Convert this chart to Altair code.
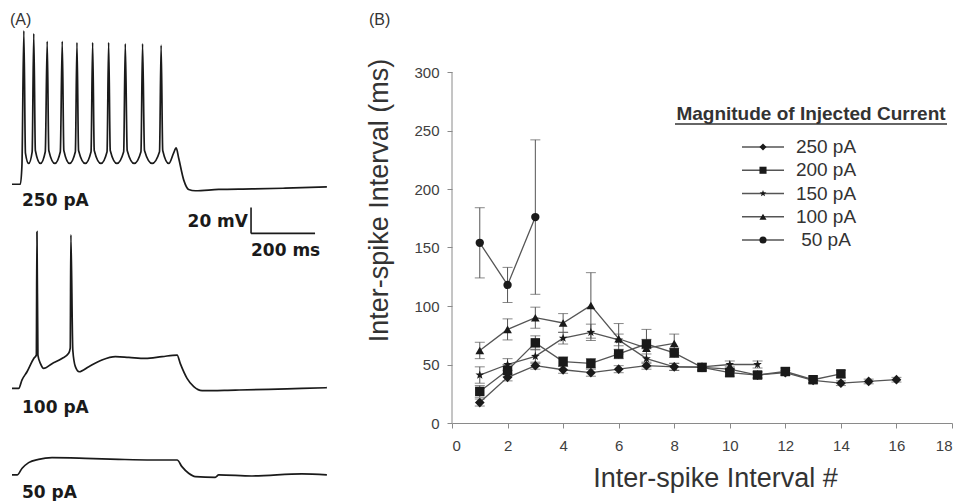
import altair as alt
import pandas as pd

# ---------------- Panel B data ----------------
SERIES = ["250 pA", "200 pA", "150 pA", "100 pA", "50 pA"]
ISI_250 = [17.5, 39, 49, 45.5, 43, 46, 49, 48, 47.5, 46, 41, 43, 36.5, 34, 35.5, 37]
ISI_200 = [27, 45, 68.5, 52.5, 51, 59, 67.5, 60, 47.5, 43, 41, 44, 37, 42]
ISI_150 = [41, 50, 57, 72.5, 77.5, 71, 55, 48, 48, 50, 50]
ISI_100 = [62, 80, 90, 85.5, 100.5, 72, 64, 68]
ISI_50 = [154, 118, 176]
ERR_250 = [3, 3, 3, 3, 3, 3, 3, 3, 2, 2, 2, 2, 2, 2, 2, 2]
ERR_200 = [5, 5, 6, 4, 4, 4, 4, 4, 3, 3, 3, 3, 3, 3]
ERR_150 = [7, 5, 6, 5, 7, 5, 4, 3, 3, 3, 3]
ERR_100 = [7, 9, 9, 8, 28, 13, 16, 8]
ERR_50 = [30, 15, 66]
X_TICKS = list(range(0, 19, 2))
Y_TICKS = list(range(0, 301, 50))

# ---------------- Panel A traces (time ms, mV relative to rest) ----------------
T250 = [0, 26, 31, 37, 42, 52, 63, 68, 73, 89, 104, 110, 115, 134, 151, 157, 162, 180, 198, 203,
        208, 229, 247, 252, 257, 278, 297, 302, 307, 328, 349, 354, 360, 382, 403, 408, 414, 438,
        461, 466, 471, 490, 505, 513, 521, 537, 552, 573, 646, 750, 854, 984]
V250 = [0, 0, 14, 118, 24, 16, 25, 116, 26, 16, 25, 110, 26, 16, 25, 110, 26, 16, 25, 109,
        26, 16, 25, 109, 26, 16, 25, 109, 26, 16, 25, 108, 26, 16, 25, 108, 26, 16,
        25, 107, 26, 16, 24, 28, 20, 3, -4, -5, -4, -3.6, -3, -2]
T100 = [0, 21, 31, 47, 68, 76, 78, 81, 89, 99, 125, 156, 177, 182, 184, 190, 198, 210, 240, 281,
        323, 365, 417, 469, 516, 526, 547, 568, 594, 698, 802, 906, 984]
V100 = [0, 0, 6.4, 12.8, 23, 25.6, 120.5, 25.6, 19, 15.4, 19, 23, 27, 31, 118, 29.5, 16.7, 12.8,
        16.7, 21.8, 24.4, 23.8, 23, 24.4, 25.6, 19, 7.7, 1.3, -1.8, -1.3, -0.8, 0, 0.5]
T50 = [0, 16, 31, 52, 83, 125, 229, 333, 438, 516, 531, 552, 573, 635, 646, 750, 906, 984]
V50 = [0, 0, 5, 9.5, 12, 13.3, 12.8, 12, 11.5, 11.5, 6.4, 1.3, -1.3, -1.8, 0, -0.8, 0.8, 0]
TRACES = ["250 pA", "100 pA", "50 pA"]
SCALE_MS = 200
SCALE_MV = 20

# ---------------- layout constants ----------------
A_W, A_H = 322, 488
A_XDOM = [-6.25, 1000]
A_YDOM = [0, 375.4]
TRACE_OFFSET = {"250 pA": 239.8, "100 pA": 82.8, "50 pA": 16.2}
BAR_T0, BAR_V0 = 747, 202

B_W, B_H = 500, 415
B_YMAX = 300 * B_H / 351

SANS = "Liberation Sans"
BOLD_A = "DejaVu Sans"
INK = "#1a1a1a"
LINE = "#555555"
AXC = "#8a8a8a"

# ---------------- Panel A ----------------
rows = []
for name, ts, vs in zip(TRACES, [T250, T100, T50], [V250, V100, V50]):
    for i, (t, v) in enumerate(zip(ts, vs)):
        rows.append({"trace": name, "i": i, "t": t, "vy": v + TRACE_OFFSET[name]})
dfA = pd.DataFrame(rows)

xA = alt.X("t:Q", scale=alt.Scale(domain=A_XDOM, nice=False, zero=False), axis=None)
yA = alt.Y("vy:Q", scale=alt.Scale(domain=A_YDOM, nice=False, zero=False), axis=None)

traces = alt.Chart(dfA).mark_line(color=INK, strokeWidth=1.7, interpolate="monotone").encode(
    x=xA, y=yA, detail="trace:N", order="i:Q")

dfBar = pd.DataFrame({
    "t": [BAR_T0, BAR_T0], "t2": [BAR_T0, BAR_T0 + SCALE_MS],
    "vy": [BAR_V0, BAR_V0], "vy2": [BAR_V0 + SCALE_MV, BAR_V0]})
scalebar = alt.Chart(dfBar).mark_rule(color=INK, strokeWidth=1.6).encode(
    x=xA, x2="t2:Q", y=yA, y2="vy2:Q")


def label(txt, x, y, size=17, font=BOLD_A, weight="bold", align="left", color=INK):
    return alt.Chart(pd.DataFrame({"s": [txt]})).mark_text(
        align=align, baseline="alphabetic", fontSize=size, font=font,
        fontWeight=weight, color=color).encode(
        x=alt.value(x), y=alt.value(y), text="s:N")


panelA = alt.layer(
    traces, scalebar,
    label("(A)", 0, 17, size=16, font=SANS, weight="normal", color="#333333"),
    label("250 pA", 12, 198),
    label(f"{SCALE_MV} mV", 238, 219, align="right"),
    label(f"{SCALE_MS} ms", 241, 248),
    label("100 pA", 12, 405),
    label("50 pA", 12, 490),
).properties(width=A_W, height=A_H)

# ---------------- Panel B ----------------
rowsB = []
for name, vals, errs in zip(SERIES, [ISI_250, ISI_200, ISI_150, ISI_100, ISI_50],
                            [ERR_250, ERR_200, ERR_150, ERR_100, ERR_50]):
    for n, (v, e) in enumerate(zip(vals, errs), start=1):
        rowsB.append({"series": name, "n": n, "isi": v, "lo": v - e, "hi": v + e})
dfB = pd.DataFrame(rowsB)

STAR = ("M0,-1L0.24,-0.33L0.95,-0.31L0.39,0.13L0.59,0.81L0,0.41L-0.59,0.81"
        "L-0.39,0.13L-0.95,-0.31L-0.24,-0.33Z")
shape_scale = alt.Scale(domain=SERIES, range=["diamond", "square", STAR, "triangle-up", "circle"])
size_scale = alt.Scale(domain=SERIES, range=[95, 70, 100, 85, 85])

xB = alt.X("n:Q", scale=alt.Scale(domain=[0, 18], nice=False),
           axis=alt.Axis(values=X_TICKS, title="Inter-spike Interval #", grid=False,
                         domainColor=AXC, tickColor=AXC, tickSize=5, labelPadding=10,
                         labelFont=SANS, labelFontSize=15, labelColor="#404040",
                         titleFont=SANS, titleFontSize=27, titleFontWeight="normal",
                         titleColor="#333333", titlePadding=12, titleX=263))
yB = alt.Y("isi:Q", scale=alt.Scale(domain=[0, B_YMAX], nice=False),
           axis=alt.Axis(values=Y_TICKS, title="Inter-spike Interval (ms)", grid=False,
                         domain=False, tickColor=AXC, tickSize=5, labelPadding=8,
                         labelFont=SANS, labelFontSize=15, labelColor="#404040",
                         titleFont=SANS, titleFontSize=27, titleFontWeight="normal",
                         titleColor="#333333", titlePadding=20, titleY=192))

base = alt.Chart(dfB)
yaxis_line = alt.Chart(pd.DataFrame({"a": [0]})).mark_rule(color=AXC, strokeWidth=1).encode(
    x=alt.value(0), y=alt.datum(0), y2=alt.datum(300))
err_rule = base.mark_rule(color=LINE, strokeWidth=1).encode(x=xB, y=alt.Y("lo:Q"), y2="hi:Q")
cap_hi = base.mark_tick(color=LINE, thickness=1, size=10, orient="horizontal").encode(
    x="n:Q", y="hi:Q")
cap_lo = base.mark_tick(color=LINE, thickness=1, size=10, orient="horizontal").encode(
    x="n:Q", y="lo:Q")
lines = base.mark_line(color=LINE, strokeWidth=1.3).encode(x=xB, y=yB, detail="series:N")
points = base.mark_point(filled=True, opacity=1, color=INK).encode(
    x="n:Q", y="isi:Q",
    shape=alt.Shape("series:N", scale=shape_scale, legend=None),
    size=alt.Size("series:N", scale=size_scale, legend=None))

# manual legend
dfL = pd.DataFrame({"series": SERIES, "row": list(range(len(SERIES)))})
leg = alt.Chart(dfL).transform_calculate(ly="139 + datum.row * 23.25")
leg_rule = leg.mark_rule(color=LINE, strokeWidth=1.3).encode(
    x=alt.value(290), x2=alt.value(332), y=alt.Y("ly:Q", scale=None))
leg_pt = leg.mark_point(filled=True, opacity=1, color=INK, size=50).encode(
    x=alt.value(311), y=alt.Y("ly:Q", scale=None),
    shape=alt.Shape("series:N", scale=shape_scale, legend=None))
leg_txt = leg.mark_text(align="center", baseline="middle", font=SANS, fontSize=19,
                        color="#333333").encode(
    x=alt.value(374), y=alt.Y("ly:Q", scale=None), text="series:N")
leg_title = label("Magnitude of Injected Current", 359, 112, size=19, font=SANS,
                  align="center", color="#333333")
leg_under = alt.Chart(pd.DataFrame({"a": [0]})).mark_rule(color="#333333", strokeWidth=1.3).encode(
    x=alt.value(223), x2=alt.value(495), y=alt.value(116))

panelB = alt.layer(
    yaxis_line, err_rule, cap_hi, cap_lo, lines, points,
    leg_rule, leg_pt, leg_txt, leg_title, leg_under,
    label("(B)", -83, 17, size=16, font=SANS, weight="normal", color="#333333"),
).properties(width=B_W, height=B_H)

chart = alt.hconcat(panelA, panelB, spacing=33).properties(
    padding=0, background="white"
).configure_view(stroke=None)

chart.save("out.html", embed_options={"renderer": "svg", "actions": False})
